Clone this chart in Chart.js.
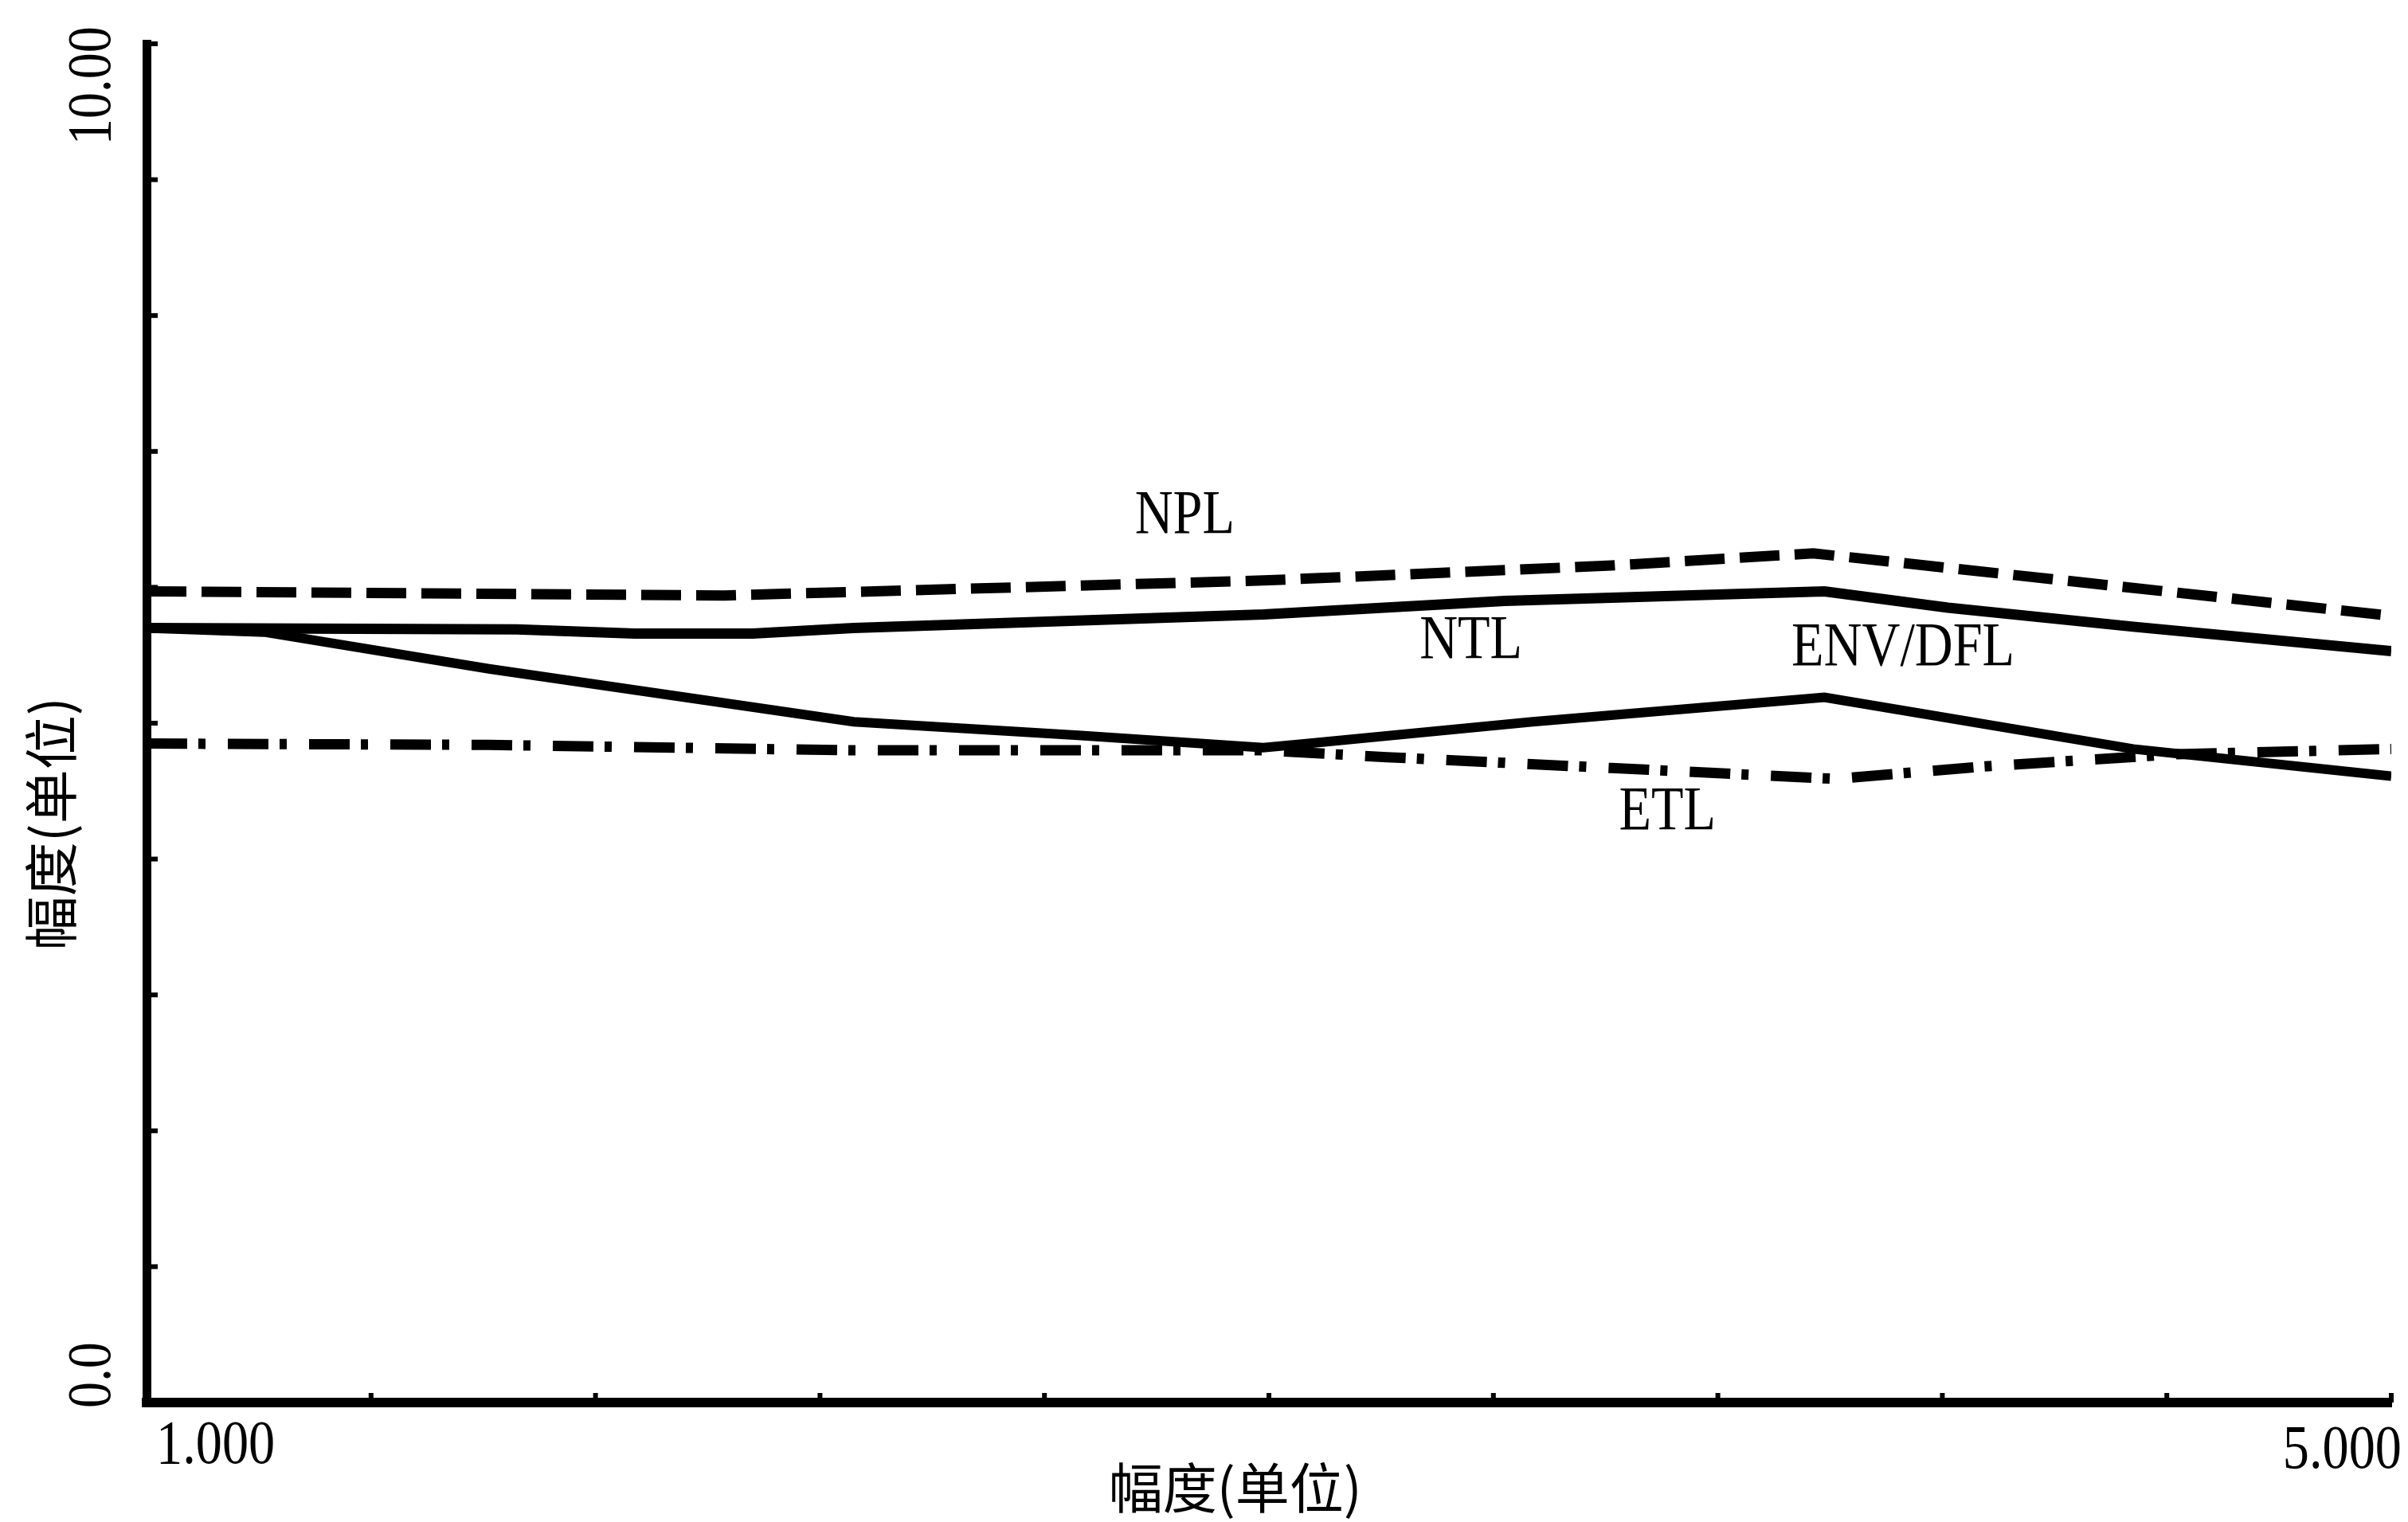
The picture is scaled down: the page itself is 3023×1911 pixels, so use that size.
<!DOCTYPE html>
<html>
<head>
<meta charset="utf-8">
<style>
	html, body { margin: 0; padding: 0; background: #fff; }
	#wrap { width: 3023px; height: 1911px; position: relative; }
</style>
</head>
<body>
<div id="wrap"><canvas id="curves"></canvas></div>
<script src="https://cdn.jsdelivr.net/npm/chart.js@4/dist/chart.umd.min.js"></script>
<script>
// values (x: 1.000 .. 5.000, y: 0.0 .. 10.00)
const nplX = [1.0, 2.03, 2.99, 3.61, 3.97, 5.0];
const nplY = [5.97, 5.94, 6.05, 6.16, 6.25, 5.79];

const ntlX = [1.0, 1.66, 1.87, 2.08, 2.26, 2.99, 3.42, 3.99, 4.21, 4.54, 5.0];
const ntlY = [5.70, 5.69, 5.66, 5.66, 5.70, 5.80, 5.90, 5.97, 5.85, 5.71, 5.53];

const envX = [1.0, 1.21, 1.61, 2.26, 2.66, 2.99, 3.07, 3.47, 3.99, 4.54, 5.0];
const envY = [5.70, 5.67, 5.40, 5.01, 4.91, 4.82, 4.85, 5.01, 5.19, 4.81, 4.61];

const etlX = [1.0, 1.61, 2.26, 2.99, 3.21, 3.61, 4.01, 4.27, 4.61, 5.0];
const etlY = [4.85, 4.84, 4.80, 4.80, 4.75, 4.67, 4.59, 4.68, 4.77, 4.81];

// curve names written on the plot, placed in data units
const curveNames = ["NPL", "NTL", "ENV/DFL", "ETL"];
const curveNameX = [2.85, 3.36, 4.13, 3.71];
const curveNameY = [6.52, 5.60, 5.55, 4.34];

const xTicks = [1.0, 1.4, 1.8, 2.2, 2.6, 3.0, 3.4, 3.8, 4.2, 4.6, 5.0];
const yTicks = [0, 1, 2, 3, 4, 5, 6, 7, 8, 9, 10];
const xTickLabels = ["1.000", "5.000"];
const yTickLabels = ["0.0", "10.00"];
const axisTitle = "幅度(单位)";

function toPoints(xs, ys) {
	const pts = [];
	for (let i = 0; i < xs.length; i++) {
		pts.push({ x: xs[i], y: ys[i] });
	}
	return pts;
}

// draws text with a slight horizontal squeeze, like the scanned original
function drawText(ctx, text, x, y, font, align, baseline, rotate, squeeze) {
	ctx.save();
	ctx.translate(x, y);
	if (rotate) ctx.rotate(rotate);
	ctx.scale(squeeze || 1, 1);
	ctx.font = font;
	ctx.fillStyle = "#000";
	ctx.textAlign = align;
	ctx.textBaseline = baseline;
	ctx.fillText(text, 0, 0);
	ctx.restore();
}

const serif = "78px 'Liberation Serif', 'Times New Roman', serif";
const cjk = "68px 'Noto Sans CJK SC'";

const decorPlugin = {
	id: "decor",
	afterDraw(chart) {
		const ctx = chart.ctx;
		const xs = chart.scales.x;
		const ys = chart.scales.y;
		const area = chart.chartArea;

		// small inward tick marks
		ctx.save();
		ctx.strokeStyle = "#000";
		ctx.lineWidth = 6;
		for (const v of yTicks) {
			const py = ys.getPixelForValue(v);
			ctx.beginPath();
			ctx.moveTo(area.left, py);
			ctx.lineTo(area.left + 14, py);
			ctx.stroke();
		}
		for (const v of xTicks) {
			const px = xs.getPixelForValue(v);
			ctx.beginPath();
			ctx.moveTo(px, area.bottom);
			ctx.lineTo(px, area.bottom - 12);
			ctx.stroke();
		}
		ctx.restore();

		// tick labels, only at the ends
		drawText(ctx, yTickLabels[0], area.left - 66, ys.getPixelForValue(0) + 7, serif, "left", "middle", -Math.PI / 2, 0.85);
		drawText(ctx, yTickLabels[1], area.left - 66, ys.getPixelForValue(10) - 22, serif, "right", "middle", -Math.PI / 2, 0.85);
		drawText(ctx, xTickLabels[0], xs.getPixelForValue(1) + 12, area.bottom + 76, serif, "left", "alphabetic", 0, 0.85);
		drawText(ctx, xTickLabels[1], xs.getPixelForValue(5) + 13, area.bottom + 82, serif, "right", "alphabetic", 0, 0.85);

		// axis titles
		drawText(ctx, axisTitle, area.left + (area.right - area.left) * 0.485, area.bottom + 107, cjk, "center", "middle", 0, 1);
		drawText(ctx, axisTitle, 64, area.top + (area.bottom - area.top) * 0.574, cjk, "center", "middle", -Math.PI / 2, 1);

		// curve names
		for (let i = 0; i < curveNames.length; i++) {
			drawText(ctx, curveNames[i], xs.getPixelForValue(curveNameX[i]), ys.getPixelForValue(curveNameY[i]), serif, "center", "middle", 0, 0.85);
		}
	}
};

const ctx = document.getElementById("curves");
const chart = new Chart(ctx, {
	type: "line",
	data: {
		datasets: [
			{
				label: "NPL",
				data: toPoints(nplX, nplY),
				borderColor: "#000",
				borderWidth: 13,
				borderDash: [50, 19],
				borderCapStyle: "butt"
			},
			{
				label: "NTL",
				data: toPoints(ntlX, ntlY),
				borderColor: "#000",
				borderWidth: 13
			},
			{
				label: "ENV/DFL",
				data: toPoints(envX, envY),
				borderColor: "#000",
				borderWidth: 12
			},
			{
				label: "ETL",
				data: toPoints(etlX, etlY),
				borderColor: "#000",
				borderWidth: 13,
				borderDash: [51, 14, 9, 28],
				borderCapStyle: "butt"
			}
		]
	},
	options: {
		responsive: true,
		maintainAspectRatio: false,
		devicePixelRatio: 1,
		animation: false,
		elements: {
			point: { radius: 0 },
			line: { tension: 0 }
		},
		layout: {
			padding: { left: 184, right: 21, top: 55, bottom: 150 }
		},
		plugins: {
			legend: { display: false },
			tooltip: { enabled: false }
		},
		scales: {
			x: {
				type: "linear",
				min: 1,
				max: 5,
				ticks: { display: false },
				grid: { display: false, drawTicks: false },
				border: { display: true, color: "#000", width: 12 }
			},
			y: {
				type: "linear",
				min: 0,
				max: 10,
				ticks: { display: false },
				grid: { display: false, drawTicks: false },
				border: { display: true, color: "#000", width: 11 }
			}
		}
	},
	plugins: [decorPlugin]
});
</script>
</body>
</html>
